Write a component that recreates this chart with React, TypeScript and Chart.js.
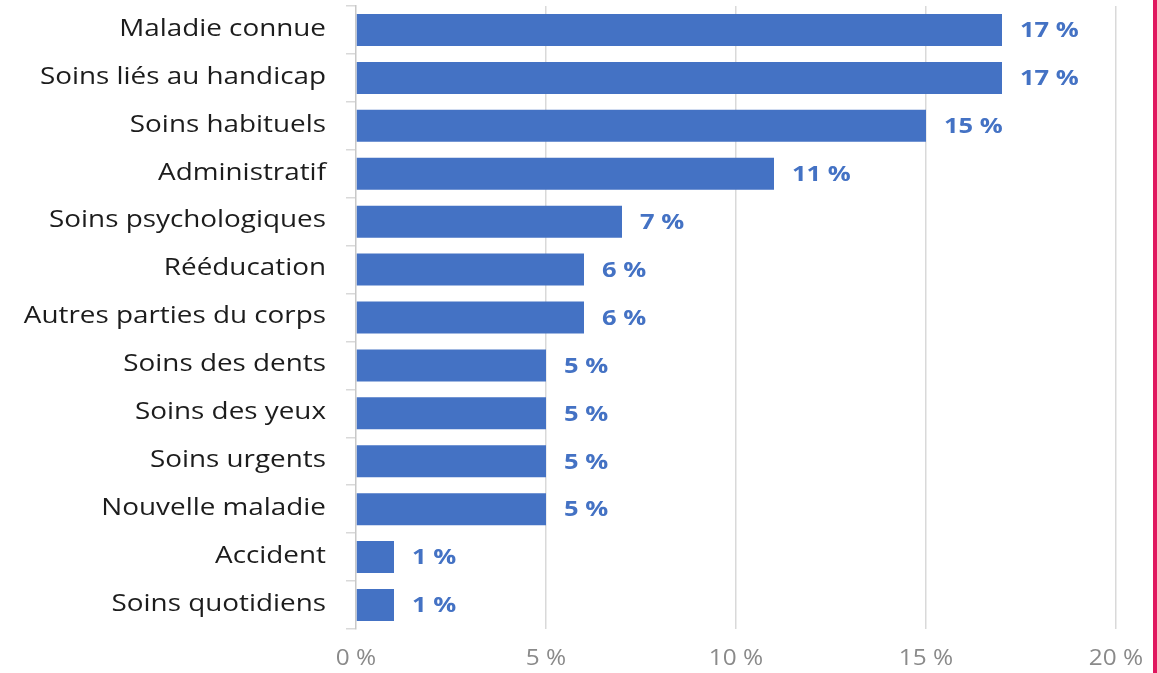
import React, { useEffect, useRef } from "react";
import { Chart, registerables } from "chart.js";

Chart.register(...registerables);

const categories = [
  "Maladie connue",
  "Soins liés au handicap",
  "Soins habituels",
  "Administratif",
  "Soins psychologiques",
  "Rééducation",
  "Autres parties du corps",
  "Soins des dents",
  "Soins des yeux",
  "Soins urgents",
  "Nouvelle maladie",
  "Accident",
  "Soins quotidiens",
];
const values = [17, 17, 15, 11, 7, 6, 6, 5, 5, 5, 5, 1, 1];
const xTicks = [0, 5, 10, 15, 20];

const BAR = "#4472C4";
const FONT = "'Open Sans', 'Noto Sans', sans-serif";
const SX = 1.16; // horizontal text stretch seen in the reference

function drawText(ctx: any, text: string, x: number, y: number, align: string) {
  ctx.save();
  ctx.translate(x, y);
  ctx.scale(SX, 1);
  ctx.textAlign = align;
  ctx.textBaseline = "middle";
  ctx.fillText(text, 0, 0);
  ctx.restore();
}

const textPlugin = {
  id: "textLabels",
  afterDraw(chart: any) {
    const ctx = chart.ctx;
    const meta = chart.getDatasetMeta(0);
    const xs = chart.scales.x;
    const area = chart.chartArea;
    ctx.save();
    // value labels
    ctx.font = `bold 22px ${FONT}`;
    ctx.fillStyle = BAR;
    meta.data.forEach((el: any, i: number) => {
      drawText(ctx, `${values[i]} %`, el.x + 18, el.y + 1, "left");
    });
    // category labels
    ctx.font = `24px ${FONT}`;
    ctx.fillStyle = "#1c1c1c";
    meta.data.forEach((el: any, i: number) => {
      drawText(ctx, categories[i], area.left - 30, el.y - 1, "right");
    });
    // x tick labels
    ctx.font = `21px ${FONT}`;
    ctx.fillStyle = "#8a8a8a";
    xTicks.forEach((v) => {
      drawText(ctx, `${v} %`, xs.getPixelForValue(v), area.bottom + 30, "center");
    });
    // right edge line
    ctx.fillStyle = "#e0185f";
    ctx.fillRect(1153, 0, 4, chart.height);
    ctx.restore();
  },
};

export default function App() {
  const ref = useRef<HTMLCanvasElement>(null);
  useEffect(() => {
    document.body.style.margin = "0";
    const chart = new Chart(ref.current!, {
      type: "bar",
      data: {
        labels: categories,
        datasets: [
          {
            data: values,
            backgroundColor: BAR,
            barPercentage: 0.668,
            categoryPercentage: 1,
          },
        ],
      },
      options: {
        indexAxis: "y",
        animation: false,
        responsive: true,
        maintainAspectRatio: false,
        layout: { padding: { top: 6, right: 41, left: 0, bottom: 0 } },
        plugins: { legend: { display: false }, tooltip: { enabled: false } },
        scales: {
          x: {
            min: 0,
            max: 20,
            afterBuildTicks: (scale: any) => {
              scale.ticks = xTicks.map((v) => ({ value: v }));
            },
            afterFit: (scale: any) => {
              scale.height = 44;
              scale.paddingLeft = 0;
              scale.paddingRight = 0;
            },
            grid: {
              color: (c: any) => (c.tick && c.tick.value === 0 ? "rgba(0,0,0,0)" : "#d9d9d9"),
              lineWidth: 1.5,
              drawTicks: false,
            },
            border: { display: false },
            ticks: { display: false },
          },
          y: {
            afterFit: (scale: any) => {
              scale.width = 356;
              scale.paddingTop = 0;
              scale.paddingBottom = 0;
            },
            grid: {
              offset: true,
              drawOnChartArea: false,
              drawTicks: true,
              tickLength: 10,
              color: "#d9d9d9",
              lineWidth: 1.5,
            },
            border: { display: true, color: "#c8c8c8", width: 1.5 },
            ticks: { display: false },
          },
        },
      },
      plugins: [textPlugin],
    });
    return () => chart.destroy();
  }, []);
  return (
    <div style={{ width: 1157, height: 673, position: "relative" }}>
      <canvas ref={ref} />
    </div>
  );
}
